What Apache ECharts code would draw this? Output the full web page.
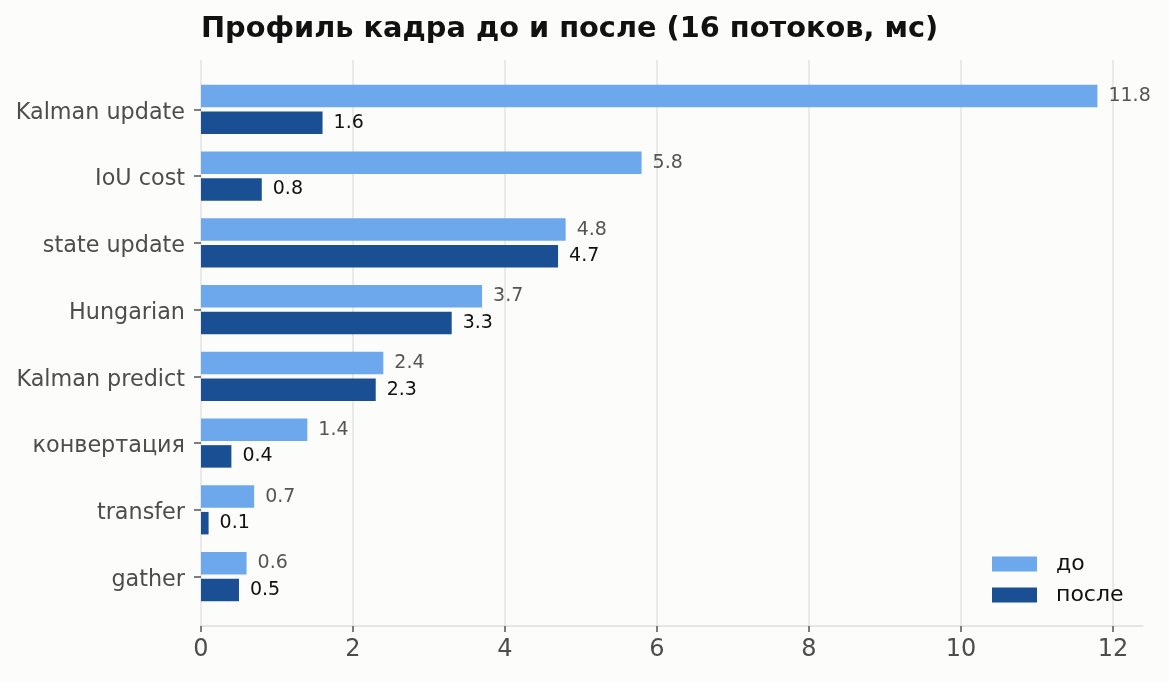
<!doctype html>
<html lang="ru">
<head>
    <meta charset="UTF-8">
    <title>Профиль кадра</title>
    <script src="https://cdn.jsdelivr.net/npm/echarts@6/dist/echarts.min.js"></script>
    <style>
        html, body { margin: 0; padding: 0; background: #fcfcfb; }
        #chart { width: 1169px; height: 682px; }
    </style>
</head>
<body>
<div id="chart"></div>
<script>
    // данные с картинки
    var stages = ['Kalman update', 'IoU cost', 'state update', 'Hungarian', 'Kalman predict', 'конвертация', 'transfer', 'gather'];
    var before = [11.8, 5.8, 4.8, 3.7, 2.4, 1.4, 0.7, 0.6];
    var after = [1.6, 0.8, 4.7, 3.3, 2.3, 0.4, 0.1, 0.5];
    var xTicks = [0, 2, 4, 6, 8, 10, 12];

    var font = 'DejaVu Sans';
    var myChart = echarts.init(document.getElementById('chart'));

    var option = {
        backgroundColor: '#fcfcfb',
        animation: false,
        title: {
            text: 'Профиль кадра до и после (16 потоков, мс)',
            left: 196,
            top: 10,
            textStyle: { fontFamily: font, fontSize: 28.8, fontWeight: 'bold', color: '#111' }
        },
        legend: {
            orient: 'vertical',
            left: 992,
            top: 553,
            padding: 0,
            itemWidth: 45,
            itemHeight: 15,
            itemGap: 9,
            icon: 'rect',
            textStyle: { fontFamily: font, fontSize: 22, color: '#111', padding: [0, 0, 0, 14] },
            data: ['до', 'после']
        },
        grid: [
            // сетка и подписи оси
            { left: 201, right: 56, top: 60, bottom: 56 },
            // бары
            { left: 201, right: 26, top: 76, bottom: 72 }
        ],
        xAxis: [{
            gridIndex: 0,
            type: 'value',
            min: xTicks[0],
            max: xTicks[xTicks.length - 1],
            interval: 2,
            axisLine: { show: false },
            axisTick: { show: true, length: 6, lineStyle: { color: '#555', width: 1.5 } },
            axisLabel: { fontFamily: font, fontSize: 24, color: '#4d4d4d', margin: 12 },
            splitLine: { show: true, lineStyle: { color: '#e3e3e3', width: 1.5 } }
        }, {
            gridIndex: 1,
            type: 'value',
            min: 0,
            max: 12.4,
            offset: 16,
            axisLine: { show: true, lineStyle: { color: '#dddddd', width: 1.5 } },
            axisTick: { show: false },
            axisLabel: { show: false },
            splitLine: { show: false }
        }],
        yAxis: [{
            gridIndex: 0,
            type: 'value',
            show: false
        }, {
            gridIndex: 1,
            type: 'category',
            inverse: true,
            data: stages,
            axisLine: { show: false },
            axisTick: { show: true, alignWithLabel: true, length: 7, lineStyle: { color: '#555', width: 1.5 } },
            axisLabel: {
                margin: 16,
                formatter: '{n|{value}}',
                rich: {
                    n: { fontFamily: font, fontSize: 22.3, color: '#4d4d4d', padding: [7, 0, 0, 0] }
                }
            }
        }],
        series: [{
            name: 'до',
            type: 'bar',
            xAxisIndex: 1,
            yAxisIndex: 1,
            data: before,
            barWidth: 22.5,
            barGap: '18%',
            itemStyle: { color: '#6ea8ec' },
            label: { show: true, position: 'right', distance: 11, fontFamily: font, fontSize: 19, color: '#555' }
        }, {
            name: 'после',
            type: 'bar',
            xAxisIndex: 1,
            yAxisIndex: 1,
            data: after,
            barWidth: 22.5,
            barGap: '18%',
            itemStyle: { color: '#1a4f94' },
            label: { show: true, position: 'right', distance: 11, fontFamily: font, fontSize: 19, color: '#111' }
        }]
    };

    myChart.setOption(option);
</script>
</body>
</html>
